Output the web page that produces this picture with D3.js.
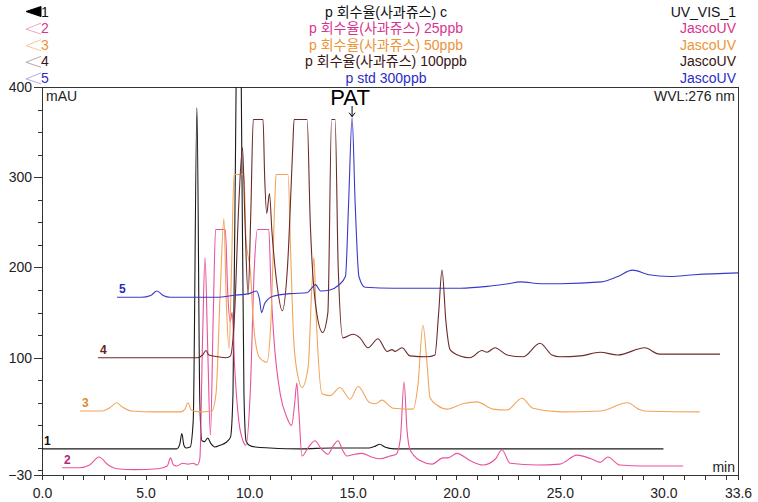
<!DOCTYPE html>
<html>
<head>
<meta charset="utf-8">
<script src="https://cdn.jsdelivr.net/npm/d3@7/dist/d3.min.js"></script>
<style>
  body { margin: 0; background: #fff; }
  svg { display: block; font-family: Arial, 'Liberation Sans', 'Noto Sans CJK KR', sans-serif; }
  .axis path, .axis line { stroke: #333; shape-rendering: crispEdges; }
  .axis text { font-size: 14px; fill: #222; font-family: Arial, 'Liberation Sans', sans-serif; }
  .trace { fill: none; stroke-width: 1.1; }
</style>
</head>
<body>
<svg width="758" height="502"></svg>
<script>
/*global d3*/

// chromatogram traces, [min, mAU]
var trace1 = [
  [0.0, -1], [6.5, -1], [6.65, 4], [6.75, 16], [6.85, 3], [6.95, 0], [7.15, 1], [7.3, 30], [7.48, 377],
  [7.62, 50], [7.72, 8], [7.85, 7], [8.0, 11], [8.15, 5], [8.35, 1], [8.6, 3], [8.88, 6], [9.1, 12],
  [9.22, 60], [9.37, 400], [9.5, 620], [9.62, 400], [9.75, 60], [9.85, 8], [10.0, 3], [10.3, 1], [11.0, 0],
  [12.5, -1], [14.0, 0], [15.8, 0], [16.1, 2], [16.3, 4], [16.55, 1], [17.0, -1], [22.0, -1], [25.0, -1], [30.0, -1]
]
var trace2 = [
  [0.97, -22], [1.8, -22], [2.3, -19], [2.75, -10], [3.2, -19], [3.6, -23], [4.5, -24], [5.6, -23], [6.05, -20],
  [6.2, -11], [6.35, -19], [6.5, -20], [6.8, -17], [7.05, -18], [7.3, -17], [7.5, -19], [7.62, -12], [7.75, 120],
  [7.87, 211], [8.0, 110], [8.13, 14], [8.27, 150], [8.38, 242], [8.85, 242], [8.97, 170], [9.08, 140],
  [9.18, 150], [9.3, 90], [9.5, 30], [9.7, 8], [9.85, 3], [10.05, 60], [10.25, 200], [10.4, 242], [10.95, 242],
  [11.05, 180], [11.2, 120], [11.5, 60], [11.8, 35], [12.05, 25], [12.2, 50], [12.3, 72], [12.4, 40],
  [12.55, -9], [12.9, 2], [13.18, 8], [13.45, 0], [13.8, -7], [14.05, 2], [14.29, 8], [14.5, -2], [14.72, -9],
  [15.1, -7], [15.45, -6], [15.9, -10], [16.32, -12], [16.8, -9], [17.1, -7], [17.3, 10], [17.48, 73],
  [17.62, 20], [17.77, -2], [18.25, -14], [18.83, -18], [19.36, -11], [19.6, -11], [20.03, -6], [20.66, -14],
  [21.29, -19], [21.9, -12], [22.2, -2], [22.6, -17], [23.9, -19], [25.0, -18], [25.83, -8], [26.5, -12],
  [26.94, -16], [27.32, -10], [27.9, -19], [29.0, -20], [30.95, -20]
]
var trace3 = [
  [1.83, 41], [2.9, 41], [3.3, 45], [3.6, 50], [3.9, 45], [4.3, 41], [5.5, 40], [6.7, 40], [6.9, 43],
  [7.05, 50], [7.2, 42], [7.6, 40], [8.2, 41], [8.4, 60], [8.6, 170], [8.78, 254], [8.9, 160], [9.03, 110],
  [9.15, 200], [9.27, 303], [9.75, 303], [9.85, 230], [9.97, 210], [10.05, 199], [10.2, 140], [10.5, 100],
  [10.86, 95], [11.05, 140], [11.25, 280], [11.3, 303], [11.88, 303], [12.0, 220], [12.15, 120], [12.35, 80],
  [12.55, 67], [12.85, 90], [13.03, 180], [13.13, 211], [13.23, 150], [13.52, 60], [13.9, 58], [14.39, 67],
  [14.87, 54], [15.26, 68], [15.83, 50], [16.1, 49], [16.41, 53], [16.95, 44], [17.91, 43], [18.15, 70],
  [18.39, 136], [18.6, 90], [18.73, 56], [19.1, 47], [19.55, 43], [20.32, 49], [21.0, 51], [21.77, 43],
  [22.45, 42], [23.17, 55], [23.7, 44], [25.0, 40], [26.94, 41], [28.27, 50], [28.8, 43], [29.09, 41], [31.75, 40]
]
var trace4 = [
  [2.7, 100], [6.5, 100], [7.5, 100], [7.75, 103], [7.92, 108], [8.05, 103], [8.5, 101], [8.9, 100],
  [9.1, 102], [9.3, 150], [9.5, 270], [9.68, 333], [9.8, 250], [9.95, 170], [10.08, 260], [10.2, 364],
  [10.67, 364], [10.75, 300], [10.85, 260], [10.98, 282], [11.1, 240], [11.35, 180], [11.6, 152], [11.85, 200],
  [12.1, 330], [12.17, 364], [12.8, 364], [12.95, 250], [13.2, 160], [13.55, 128], [13.8, 150], [13.98, 364],
  [14.15, 364], [14.3, 200], [14.53, 122], [15.01, 126], [15.35, 122], [15.74, 111], [16.22, 121],
  [16.66, 107], [16.9, 109], [17.04, 107], [17.38, 111], [17.77, 102], [18.59, 101], [18.97, 103],
  [19.15, 150], [19.31, 197], [19.5, 140], [19.7, 109], [20.18, 102], [20.66, 100], [21.24, 108],
  [21.48, 106], [21.87, 111], [22.45, 103], [23.22, 101], [24.04, 116], [24.62, 103], [25.0, 101],
  [26.0, 102], [26.94, 106], [27.8, 103], [29.1, 111], [29.8, 104], [32.73, 104]
]
var trace5 = [
  [3.62, 167], [4.8, 167], [5.25, 169], [5.55, 174], [5.85, 169], [6.2, 167], [8.5, 167], [9.2, 169],
  [10.0, 171], [10.35, 174], [10.5, 165], [10.6, 150], [10.75, 160], [11.15, 168], [12.0, 171], [12.8, 172],
  [13.05, 178], [13.2, 181], [13.45, 174], [13.9, 175], [14.3, 180], [14.65, 190], [14.8, 270], [14.97, 366],
  [15.12, 270], [15.3, 190], [15.6, 178], [17.0, 177], [20.2, 177], [21.5, 179], [22.5, 182], [23.1, 184],
  [24.1, 182], [25.0, 182], [27.0, 184], [27.8, 190], [28.5, 197], [29.3, 192], [30.3, 190], [31.5, 192], [33.6, 194]
]

var traces = [trace1, trace2, trace3, trace4, trace5]
var traceIds = ['1', '2', '3', '4', '5']
var sampleNames = ['p 회수율(사과쥬스) c', 'p 회수율(사과쥬스) 25ppb', 'p 회수율(사과쥬스) 50ppb',
  'p 회수율(사과쥬스) 100ppb', 'p std 300ppb']
var detectors = ['UV_VIS_1', 'JascoUV', 'JascoUV', 'JascoUV', 'JascoUV']
var xLabelTicks = [0, 5, 10, 15, 20, 25, 30, 33.6]
var yLabelTicks = [-30, 100, 200, 300, 400]
var peakLabel = { name: 'PAT', time: 14.97, value: 366 }

var lineColors = ['#1a1a1a', '#e8529c', '#f2a45a', '#6e2a2a', '#3a3ac8']
var textColors = ['#111', '#d8348e', '#eb9438', '#3a1414', '#2c2cc8']
var labelColors = ['#111', '#b02878', '#e08a30', '#6a1e1e', '#2a2ab8']
var markColors = ['#000', '#f2a6c8', '#f6c89a', '#b8aaaa', '#aab0e8']

;(function () {

  var svg = d3.select('svg')
  var left = 42, right = 738, top = 87, bottom = 475

  var x = d3.scaleLinear().domain([0, 33.6]).range([left, right])
  var y = d3.scaleLinear().domain([-30, 400]).range([bottom, top])

  svg.append('defs').append('clipPath').attr('id', 'plot')
    .append('rect')
    .attr('x', left).attr('y', top)
    .attr('width', right - left).attr('height', bottom - top)

  // frame top + right
  svg.append('path')
    .attr('d', 'M' + left + ',' + top + 'H' + right + 'V' + (bottom + 5))
    .attr('fill', 'none').attr('stroke', '#333')
    .attr('shape-rendering', 'crispEdges')

  // x axis
  svg.append('g').attr('class', 'axis')
    .attr('transform', 'translate(0,' + bottom + ')')
    .call(d3.axisBottom(x).tickValues(d3.range(0, 34, 1)).tickSize(5).tickFormat('').tickSizeOuter(0))
  svg.append('g').attr('class', 'axis')
    .attr('transform', 'translate(0,' + bottom + ')')
    .call(d3.axisBottom(x).tickValues(xLabelTicks).tickSize(5).tickPadding(8)
      .tickFormat(d3.format('.1f')))
    .select('.domain').remove()

  // y axis
  svg.append('g').attr('class', 'axis')
    .attr('transform', 'translate(' + left + ',0)')
    .call(d3.axisLeft(y).tickValues(d3.range(-25, 400, 25)).tickSize(4).tickFormat('').tickSizeOuter(0))
  svg.append('g').attr('class', 'axis')
    .attr('transform', 'translate(' + left + ',0)')
    .call(d3.axisLeft(y).tickValues(yLabelTicks).tickSize(8).tickPadding(2))
    .select('.domain').remove()

  svg.append('text').attr('x', left + 4).attr('y', top + 14)
    .attr('font-size', 14).attr('fill', '#222').text('mAU')
  svg.append('text').attr('x', right - 3).attr('y', top + 14)
    .attr('font-size', 14).attr('fill', '#222').attr('text-anchor', 'end').text('WVL:276 nm')
  svg.append('text').attr('x', right - 3).attr('y', bottom - 3)
    .attr('font-size', 14).attr('fill', '#222').attr('text-anchor', 'end').text('min')

  // traces
  var line = d3.line()
    .x(function (d) { return x(d[0]) })
    .y(function (d) { return y(d[1]) })
    .curve(d3.curveMonotoneX)

  svg.append('g').attr('clip-path', 'url(#plot)')
    .selectAll('path')
    .data(traces)
    .enter().append('path')
    .attr('class', 'trace')
    .attr('stroke', function (d, i) { return lineColors[i] })
    .attr('d', line)

  // trace numbers at the start of each trace
  svg.append('g').selectAll('text')
    .data(traces)
    .enter().append('text')
    .attr('x', function (d) { return x(d[0][0]) + 2 })
    .attr('y', function (d) { return y(d[0][1]) - 4 })
    .attr('font-size', 12).attr('font-weight', 'bold')
    .attr('fill', function (d, i) { return labelColors[i] })
    .text(function (d, i) { return traceIds[i] })

  // PAT marker
  var px = x(peakLabel.time)
  svg.append('text').attr('x', px - 2).attr('y', top + 18)
    .attr('font-size', 22).attr('text-anchor', 'middle').attr('fill', '#000')
    .text(peakLabel.name)
  svg.append('line').attr('x1', px).attr('x2', px)
    .attr('y1', top + 19).attr('y2', y(peakLabel.value) - 1)
    .attr('stroke', '#000').attr('stroke-width', 1)
  svg.append('path')
    .attr('d', 'M' + (px - 3) + ',' + (y(peakLabel.value) - 5) + 'L' + px + ',' + (y(peakLabel.value) - 1) +
      'L' + (px + 3) + ',' + (y(peakLabel.value) - 5))
    .attr('fill', 'none').attr('stroke', '#000')

  // header legend
  var rowY = function (i) { return 11.5 + i * 16.6 }
  var head = svg.append('g').selectAll('g')
    .data(sampleNames)
    .enter().append('g')

  head.append('path')
    .attr('d', function (d, i) {
      var cy = rowY(i)
      if (i === 0) return 'M41,' + (cy - 5) + 'L26,' + cy + 'L41,' + (cy + 5) + 'Z'
      return 'M41,' + (cy - 5) + 'L26,' + (cy + 1) + 'L41,' + (cy + 6)
    })
    .attr('fill', function (d, i) { return i === 0 ? markColors[0] : 'none' })
    .attr('stroke', function (d, i) { return markColors[i] })

  head.append('text')
    .attr('x', 41).attr('y', function (d, i) { return rowY(i) })
    .attr('dy', '0.36em').attr('font-size', 14)
    .attr('fill', function (d, i) { return textColors[i] })
    .text(function (d, i) { return traceIds[i] })

  head.append('text')
    .attr('x', 386).attr('y', function (d, i) { return rowY(i) })
    .attr('dy', '0.36em').attr('font-size', 14).attr('text-anchor', 'middle')
    .attr('fill', function (d, i) { return textColors[i] })
    .text(function (d) { return d })

  head.append('text')
    .attr('x', 736).attr('y', function (d, i) { return rowY(i) })
    .attr('dy', '0.36em').attr('font-size', 14).attr('text-anchor', 'end')
    .attr('fill', function (d, i) { return textColors[i] })
    .text(function (d, i) { return detectors[i] })

})()
</script>
</body>
</html>
